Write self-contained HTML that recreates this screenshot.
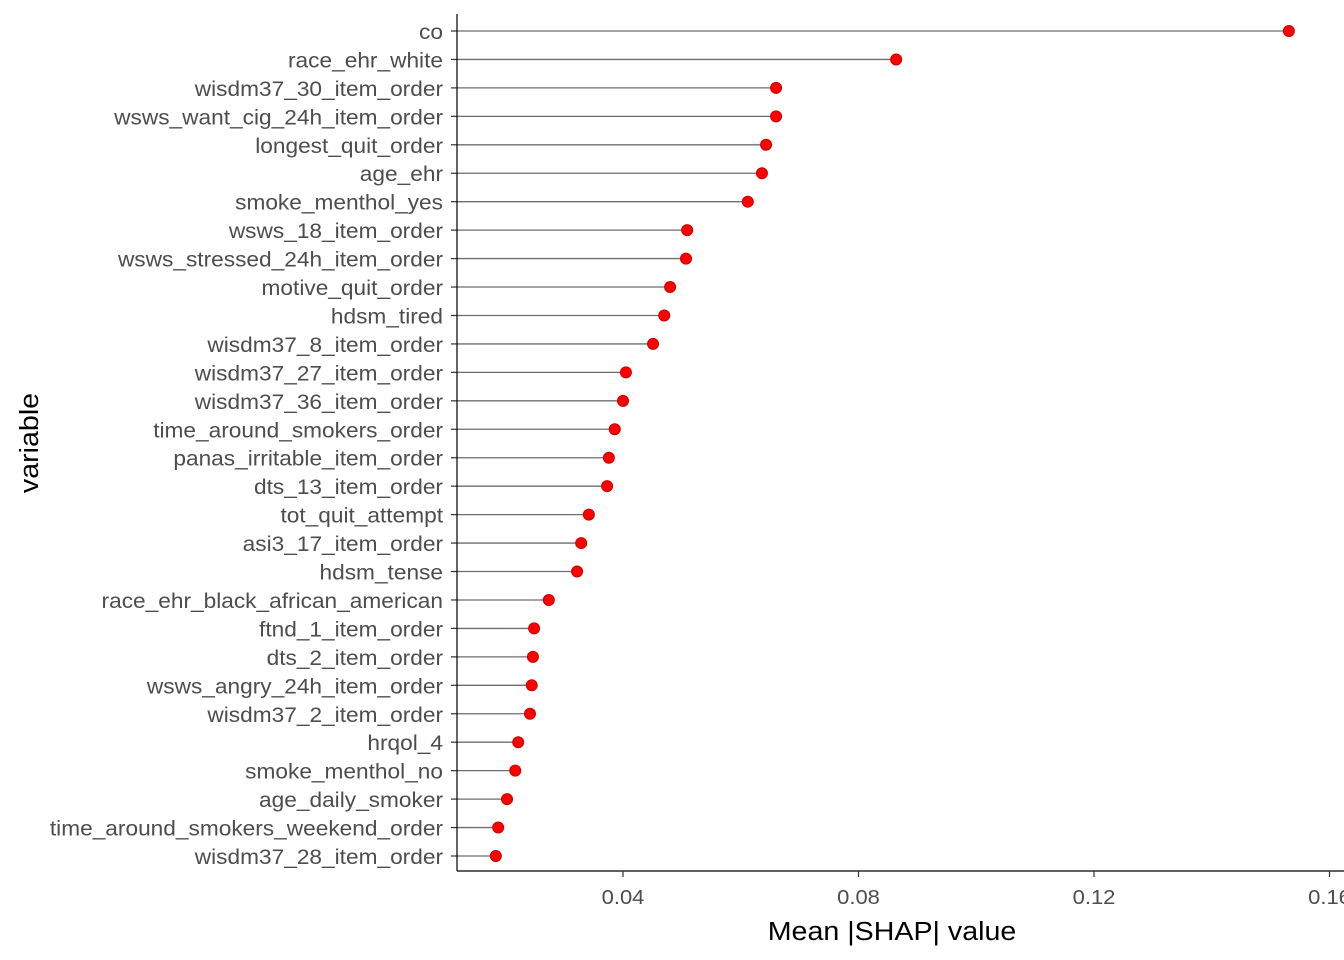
<!DOCTYPE html>
<html><head><meta charset="utf-8"><style>
html,body{margin:0;padding:0;background:#fff;}
svg{display:block;font-family:"Liberation Sans",Arial,sans-serif;}
</style></head><body>
<svg id="chart" width="1344" height="960">
<g id="plot"></g>
<line x1="457" y1="14" x2="457" y2="871" stroke="#000" stroke-width="1.2"/>
<line x1="457" y1="871" x2="1344" y2="871" stroke="#000" stroke-width="1.2"/>
<g id="xticks"></g>
<text x="0" y="0" text-anchor="middle" font-size="26" fill="#000" transform="translate(892 940) scale(1.1 1)">Mean |SHAP| value</text>
<text x="0" y="0" text-anchor="middle" font-size="26" fill="#000" transform="translate(38 443) rotate(-90) scale(1.1 1)">variable</text>
</svg>
<script>
const categories=["co","race_ehr_white","wisdm37_30_item_order","wsws_want_cig_24h_item_order","longest_quit_order","age_ehr","smoke_menthol_yes","wsws_18_item_order","wsws_stressed_24h_item_order","motive_quit_order","hdsm_tired","wisdm37_8_item_order","wisdm37_27_item_order","wisdm37_36_item_order","time_around_smokers_order","panas_irritable_item_order","dts_13_item_order","tot_quit_attempt","asi3_17_item_order","hdsm_tense","race_ehr_black_african_american","ftnd_1_item_order","dts_2_item_order","wsws_angry_24h_item_order","wisdm37_2_item_order","hrqol_4","smoke_menthol_no","age_daily_smoker","time_around_smokers_weekend_order","wisdm37_28_item_order"];
const values=[0.1531,0.0864,0.0660,0.0660,0.0643,0.0636,0.0612,0.0509,0.0507,0.0480,0.0470,0.0451,0.0405,0.0400,0.0386,0.0376,0.0373,0.0342,0.0329,0.0322,0.0274,0.0249,0.0247,0.0245,0.0242,0.0222,0.0217,0.0203,0.0188,0.0184];
const xTicks=[0.04,0.08,0.12,0.16];
const xTickLabels=["0.04","0.08","0.12","0.16"];
const NS="http://www.w3.org/2000/svg";
function xs(v){return 623+(v-0.04)*5887.5;}
function ys(i){return 31+i*(825/(categories.length-1));}
const plot=document.getElementById('plot');
function mk(t,a,p){const e=document.createElementNS(NS,t);for(const k in a)e.setAttribute(k,a[k]);p.appendChild(e);return e;}
categories.forEach((c,i)=>{
  const y=ys(i);
  const l=mk('line',{x1:457,y1:y,x2:xs(values[i]),y2:y,stroke:'#6e6e6e','stroke-width':1.3},plot);
  
  
  const d=mk('circle',{cx:xs(values[i]),cy:y,r:5.5,fill:'#ff0000',stroke:'#cc0000','stroke-width':1},plot);
  
  
  const t=mk('line',{x1:451,y1:y,x2:457,y2:y,stroke:'#333','stroke-width':1.2},plot);
  
  
  const lab=mk('text',{x:0,y:0,'text-anchor':'end','font-size':21,fill:'#4d4d4d',transform:'translate(443 '+(y+8)+') scale(1.08 1)'},plot);
  lab.textContent=c;
  
  
});
const xt=document.getElementById('xticks');
xTicks.forEach((v,i)=>{
  const t=mk('line',{x1:xs(v),y1:871,x2:xs(v),y2:877,stroke:'#333','stroke-width':1.2},xt);
  
  
  const lab=mk('text',{x:0,y:0,'text-anchor':'middle','font-size':20,fill:'#4d4d4d',transform:'translate('+xs(v)+' 904) scale(1.1 1)'},xt);
  lab.textContent=xTickLabels[i];
  
  
});
</script>
</body></html>
